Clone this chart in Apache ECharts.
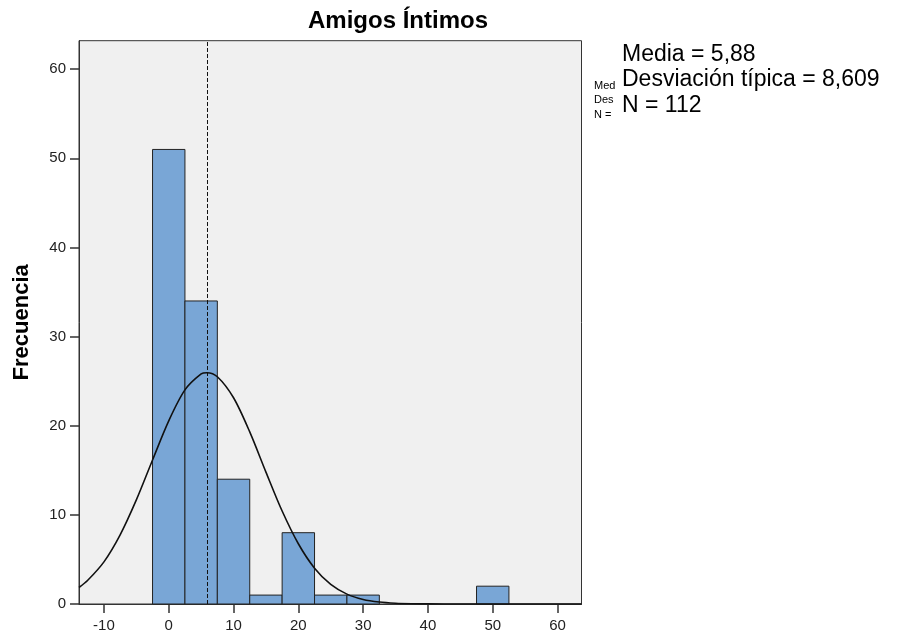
<!DOCTYPE html>
<html>
<head>
<meta charset="utf-8">
<title>Amigos Íntimos</title>
<script src="https://cdn.jsdelivr.net/npm/echarts@6/dist/echarts.min.js"></script>
<style>
  html, body { margin: 0; padding: 0; background: #fff; }
  #chart_box { width: 900px; height: 638px; }
</style>
</head>
<body>
<div id="chart_box"></div>
<script>
// histograma: limites de los intervalos y frecuencias
let binLo = [-2.5, 2.5, 7.5, 12.5, 17.5, 22.5, 27.5, 47.5];
let binHi = [2.5, 7.5, 12.5, 17.5, 22.5, 27.5, 32.5, 52.5];
let counts = [51, 34, 14, 1, 8, 1, 1, 2];

// curva normal
let curveX = [-13.85, -12.5, -10, -7.5, -5, -2.5, 0, 2.5, 5, 5.88, 7.5, 10, 12.5, 15, 17.5, 20, 22.5, 25, 27.5, 30, 32.5, 35, 37.5, 40, 45, 50, 55, 60, 63.7];
let curveY = [1.85, 2.66, 4.73, 7.76, 11.68, 16.16, 20.55, 24.02, 25.81, 25.95, 25.5, 23.14, 19.31, 14.8, 10.43, 6.76, 4.02, 2.2, 1.11, 0.51, 0.22, 0.085, 0.03, 0.01, 0, 0, 0, 0, 0];

let xTicks = [-10, 0, 10, 20, 30, 40, 50, 60];
let yTicks = [0, 10, 20, 30, 40, 50, 60];

let media = 5.88;
let statsLines = ['Media = 5,88', 'Desviación típica = 8,609', 'N = 112'];

let font = 'Liberation Sans';
let myChart = echarts.init(document.getElementById('chart_box'));

function renderBar(params, api) {
    let p0 = api.coord([api.value(0), api.value(2)]);
    let p1 = api.coord([api.value(1), 0]);
    return {
        type: 'rect',
        shape: { x: p0[0], y: p0[1], width: p1[0] - p0[0], height: p1[1] - p0[1] },
        style: { fill: '#79A6D6', stroke: '#222', lineWidth: 1 }
    };
}

let graphics = [{
    type: 'text',
    x: 398, y: 21,
    style: {
        text: 'Amigos Íntimos', fontSize: 24, fontWeight: 'bold', fontFamily: font,
        fill: '#000', textAlign: 'center', textVerticalAlign: 'middle'
    }
}];
// texto pequeño recortado detras del grande
[86, 100, 115].forEach(function(y, i) {
    graphics.push({
        type: 'text', x: 594, y: y,
        style: {
            text: statsLines[i], fontSize: 11, fontFamily: font, fill: '#000',
            textVerticalAlign: 'middle', width: 23, overflow: 'truncate', ellipsis: ''
        }
    });
});
[55, 80, 106].forEach(function(y, i) {
    graphics.push({
        type: 'text', x: 622, y: y,
        style: {
            text: statsLines[i], fontSize: 23, fontFamily: font, fill: '#000',
            textVerticalAlign: 'middle'
        }
    });
});

let myOption = {
    animation: false,
    backgroundColor: '#fff',
    grid: {
        left: 79, right: 318.5, top: 40.7, bottom: 34,
        outerBoundsMode: 'none',
        containLabel: false,
        show: true, backgroundColor: '#F0F0F0', borderColor: '#333', borderWidth: 1
    },
    xAxis: {
        type: 'value',
        min: -13.85,
        max: 63.7,
        position: 'bottom',
        axisLine: { show: true, onZero: false, lineStyle: { color: '#333', width: 1 } },
        axisTick: { show: true, inside: false, length: 9, customValues: xTicks, lineStyle: { color: '#333', width: 1.5 } },
        axisLabel: { customValues: xTicks, fontSize: 15, fontFamily: font, color: '#222', margin: 14 },
        splitLine: { show: false }
    },
    yAxis: {
        type: 'value',
        min: 0,
        max: 63.2,
        position: 'left',
        name: 'Frecuencia',
        nameLocation: 'middle',
        nameRotate: 90,
        nameGap: 46,
        nameTextStyle: { fontSize: 22, fontWeight: 'bold', fontFamily: font, color: '#000' },
        axisLine: { show: true, onZero: false, lineStyle: { color: '#333', width: 1 } },
        axisTick: { show: true, inside: false, length: 9, customValues: yTicks, lineStyle: { color: '#333', width: 1.5 } },
        axisLabel: { customValues: yTicks, fontSize: 15, fontFamily: font, color: '#222', margin: 13 },
        splitLine: { show: false }
    },
    series: [{
        name: 'Frecuencia',
        type: 'custom',
        renderItem: renderBar,
        encode: { x: [0, 1], y: 2 },
        data: binLo.map(function(lo, i) { return [lo, binHi[i], counts[i]]; })
    }, {
        name: 'Normal',
        type: 'line',
        smooth: 0.3,
        symbol: 'none',
        lineStyle: { color: '#111', width: 1.6 },
        data: curveX.map(function(x, i) { return [x, curveY[i]]; }),
        markLine: {
            silent: true,
            symbol: ['none', 'none'],
            label: { show: false },
            lineStyle: { color: '#111', type: [4, 2], width: 1 },
            data: [{ xAxis: media }]
        }
    }],
    graphic: graphics
};

myChart.setOption(myOption);
</script>
</body>
</html>
